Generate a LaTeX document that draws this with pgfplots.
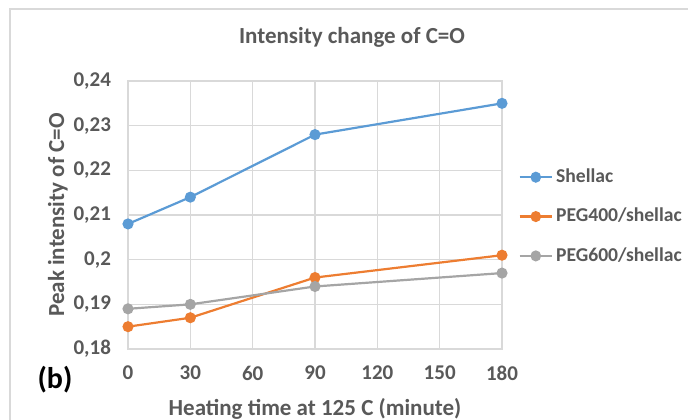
\documentclass[border=0pt]{standalone}
\usepackage{fontspec}
\setmainfont{Carlito}
\usepackage{pgfplots}
\pgfplotsset{compat=1.18}

\definecolor{xlblue}{HTML}{5B9BD5}
\definecolor{xlorange}{HTML}{ED7D31}
\definecolor{xlgray}{HTML}{A5A5A5}
\definecolor{txt}{HTML}{595959}
\definecolor{grd}{HTML}{D9D9D9}

\begin{document}
\begin{tikzpicture}
  % page = 688 x 419 px, 1px = 0.5pt
  \path[use as bounding box] (0pt,0pt) rectangle (344pt,209.5pt);
  \draw[grd, line width=0.6pt] (5pt,-3pt) -- (5pt,205pt) -- (350pt,205pt);

  \node[font=\fontsize{11.5}{13}\selectfont\bfseries, text=txt] at (176pt,191pt) {Intensity change of C=O};
  \node[font=\fontsize{15}{17}\selectfont\bfseries] at (27.5pt,19.5pt) {(b)};

  \begin{axis}[
    at={(64pt,35pt)}, anchor=south west,
    scale only axis,
    width=187pt, height=134pt,
    xmin=0, xmax=180,
    ymin=0.18, ymax=0.24,
    xtick={0,30,...,180},
    ytick={0.18,0.19,0.2,0.21,0.22,0.23,0.24},
    major tick length=0pt,
    grid=major,
    grid style={grd, line width=0.6pt},
    axis line style={grd, line width=0.6pt},
    clip=false,
    tick label style={font=\fontsize{10.5}{12}\selectfont\bfseries, text=txt},
    yticklabel style={xshift=-5pt},
    xticklabel style={yshift=-5pt},
    /pgf/number format/.cd, use comma, fixed, precision=2, assume math mode=true,
    /pgfplots/.cd,
    xlabel={Heating time at 125 C (minute)},
    ylabel={Peak intensity of C=O},
    label style={font=\fontsize{11.5}{13}\selectfont\bfseries, text=txt},
    xlabel style={yshift=-2pt},
    ylabel style={yshift=-4pt},
    legend style={
      at={(1.043,0.685)}, anchor=north west,
      draw=none, fill=none,
      font=\fontsize{9.8}{11}\selectfont\bfseries, text=txt,
      row sep=8.3pt, inner sep=0pt,
      nodes={inner sep=1.5pt},
    },
    legend cell align=left,
    legend image post style={xscale=0.95},
    every axis plot/.append style={line width=1.1pt, mark=*, mark size=2.2pt},
  ]
    \addplot[xlblue, mark options={fill=xlblue}] coordinates {
      (0,0.208)(30,0.214)(90,0.228)(180,0.235)
    };
    \addplot[xlorange, mark options={fill=xlorange}] coordinates {
      (0,0.185)(30,0.187)(90,0.196)(180,0.201)
    };
    \addplot[xlgray, mark options={fill=xlgray}] coordinates {
      (0,0.189)(30,0.190)(90,0.194)(180,0.197)
    };
    \legend{Shellac, PEG400/shellac, PEG600/shellac}
  \end{axis}
\end{tikzpicture}
\end{document}
